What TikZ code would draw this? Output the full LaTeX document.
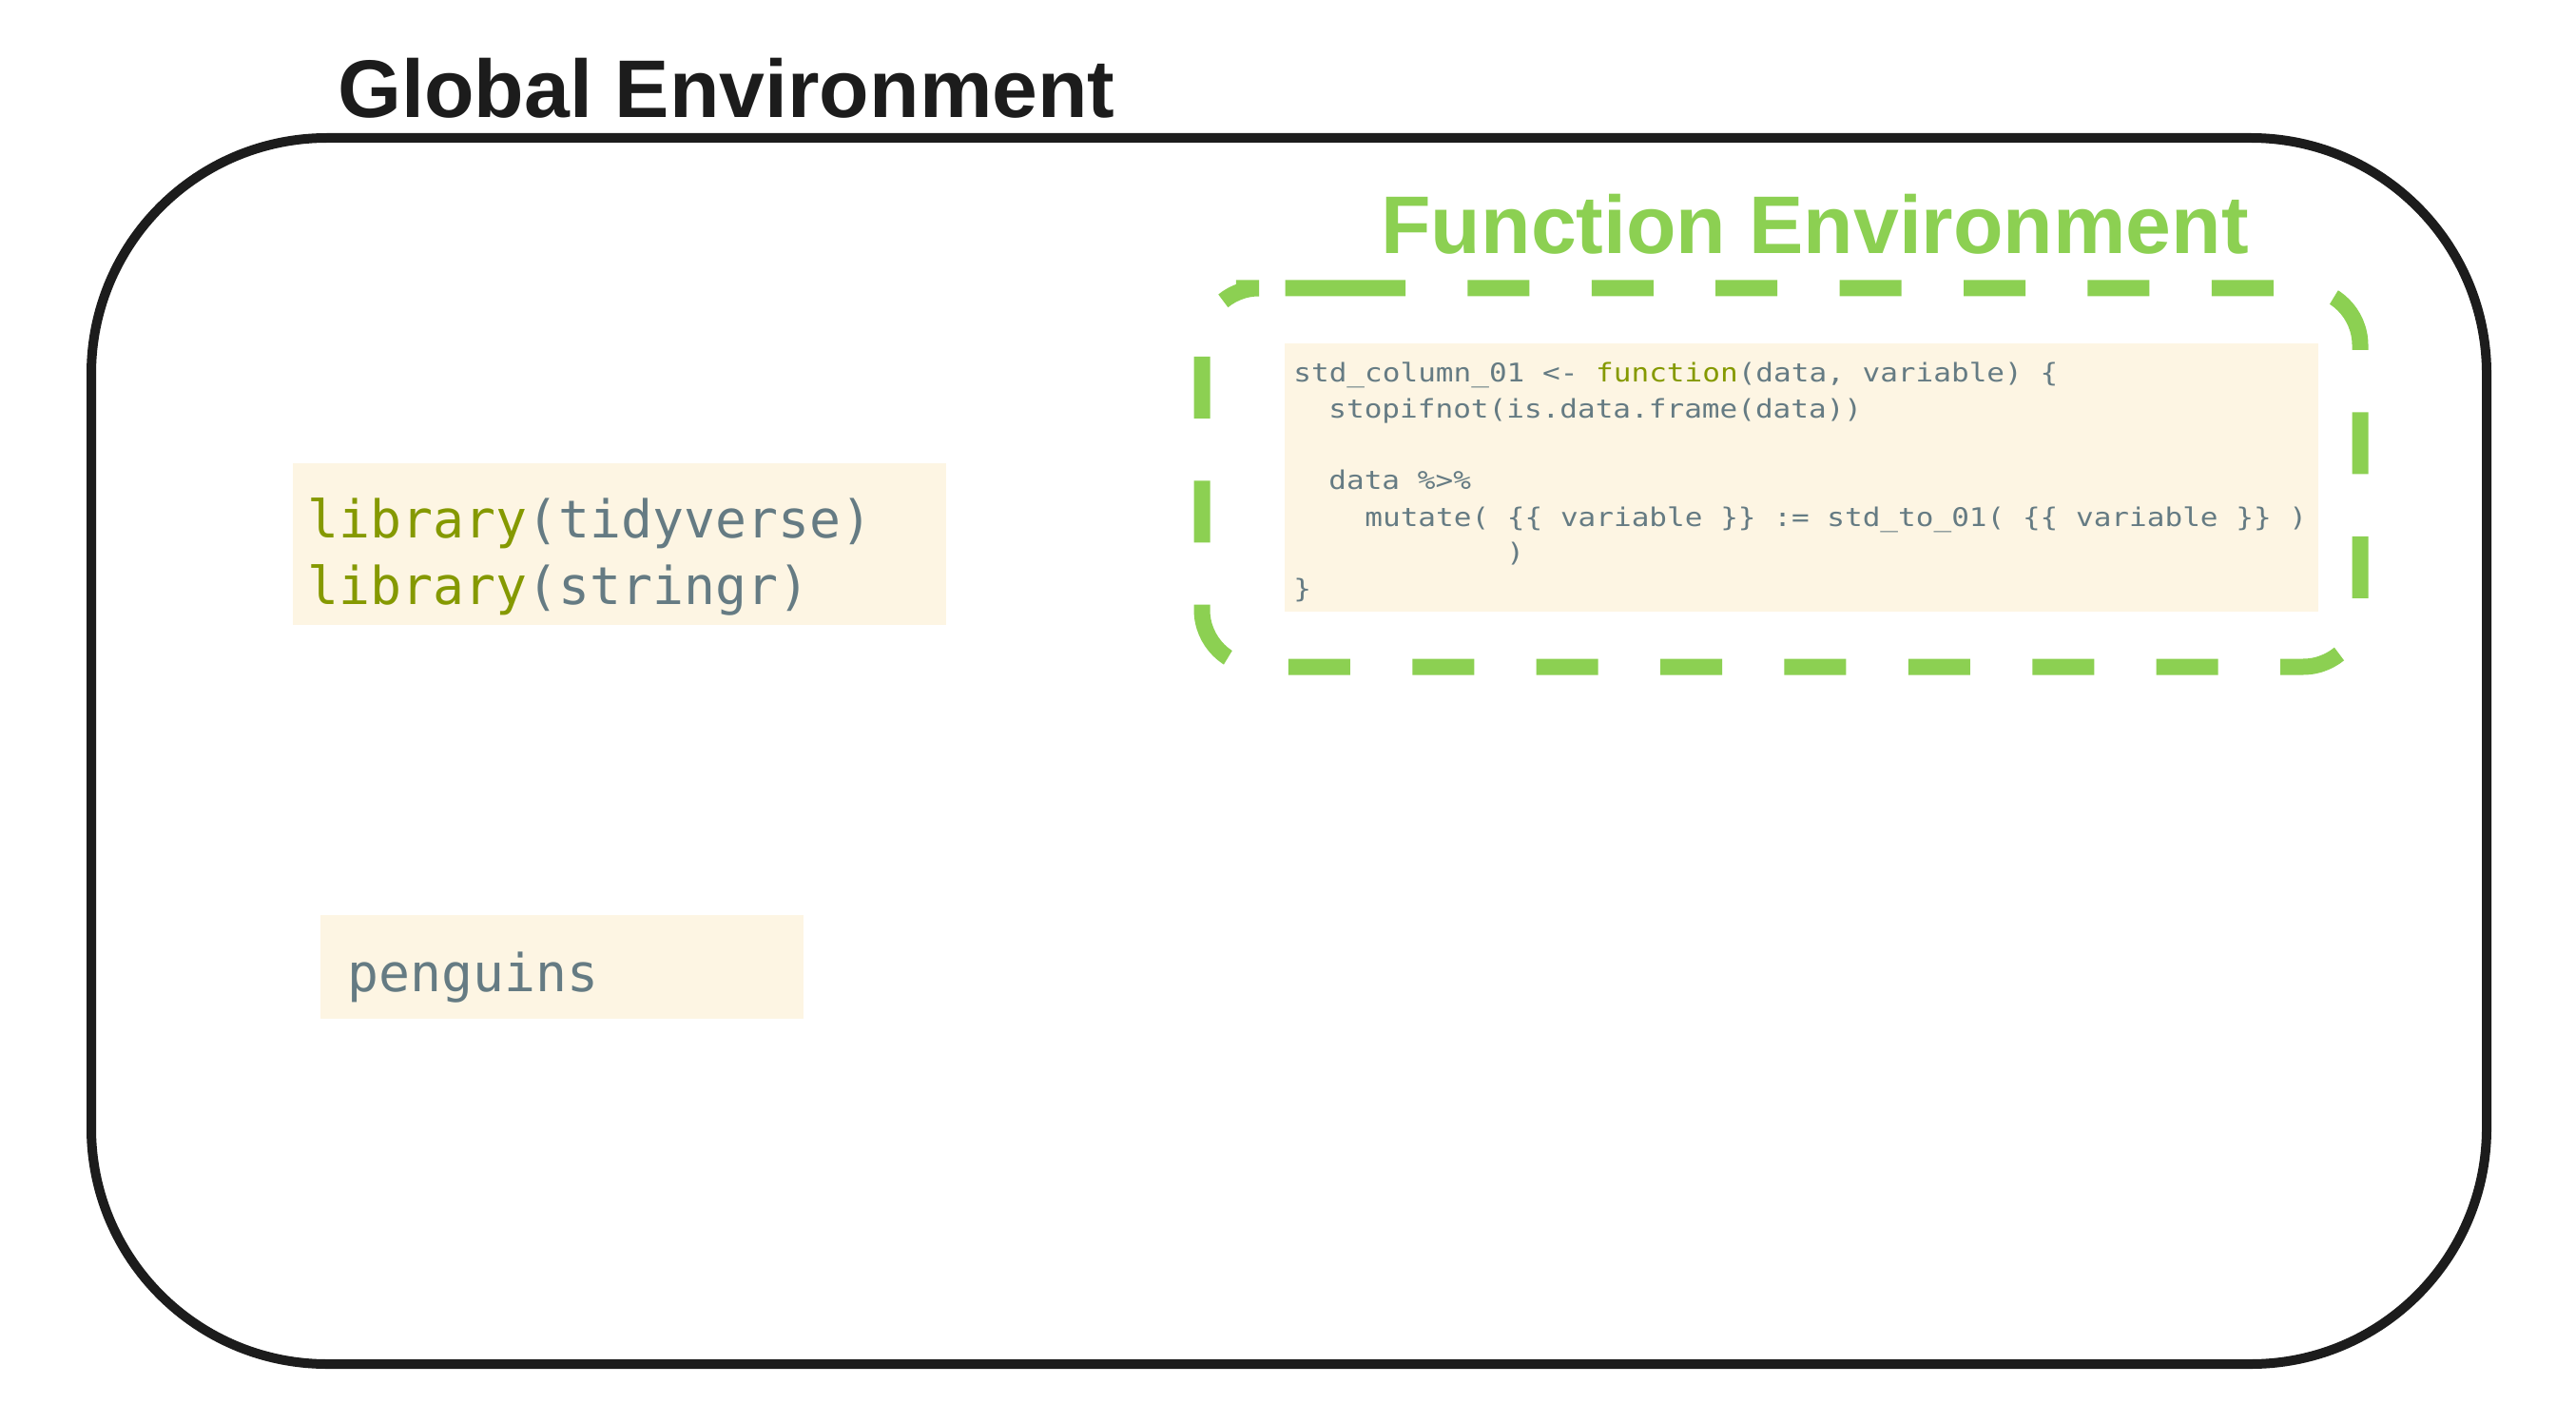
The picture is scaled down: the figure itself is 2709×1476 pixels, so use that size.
\documentclass[tikz,border=0pt]{standalone}
\usepackage{fontspec}
\usepackage{graphicx}
\newfontfamily\titlefont{Liberation Sans}
\newfontfamily\codefont{DejaVu Sans Mono}
\definecolor{envgreen}{RGB}{140,208,82}
\definecolor{boxblack}{RGB}{28,28,28}
\definecolor{codebg}{RGB}{253,245,227}
\definecolor{codefg}{RGB}{101,123,131}
\definecolor{codekw}{RGB}{133,153,0}
\newcommand{\codewide}[1]{\scalebox{1.15}[1]{#1}}
\begin{document}
\begin{tikzpicture}[x=0.5pt,y=-0.5pt,
  titletext/.style={anchor=base west, inner sep=0pt, font=\titlefont\bfseries\fontsize{43pt}{50pt}\selectfont},
  panel/.style={fill=codebg, draw=none, inner sep=0pt},
  bigcode/.style={anchor=base west, inner sep=0pt, text=codefg, font=\codefont\fontsize{27.4pt}{33pt}\selectfont},
  smallcode/.style={anchor=base west, inner sep=0pt, text=codefg, font=\codefont\fontsize{13.5pt}{16pt}\selectfont},
  globalbox/.style={draw=boxblack, line width=5pt, rounded corners=124pt, inner sep=0pt},
  fenvbox/.style={draw=envgreen, line width=8.5pt, rounded corners=30pt, dash pattern=on 32.5pt off 32.7pt}
]
\fill[white] (0,0) rectangle (2709,1476);
\useasboundingbox (0,0) rectangle (2709,1476);

% global environment
\node[globalbox, minimum width=1259.5pt, minimum height=644.5pt] (global) at (1355.5,789.5) {};
\node[titletext, text=boxblack] (globaltitle) at (355,124) {Global Environment};

% function environment
\coordinate (fstart) at (1353,303);
\draw[fenvbox] (fstart) -- (2482,303) -- (2482,701) -- (1264,701) -- (1264,303) -- cycle;
\node[titletext, text=envgreen] (fenvtitle) at (1452,267) {Function Environment};

% panels
\node[panel, minimum width=343.5pt, minimum height=85pt] (libpanel) at (651.5,572) {};
\node[panel, minimum width=254pt, minimum height=54.5pt] (penpanel) at (591,1016.5) {};
\node[panel, minimum width=543.5pt, minimum height=141pt] (codepanel) at (1894.5,502) {};

% library code
\node[bigcode] (lib1) at (323,565) {\textcolor{codekw}{library}(tidyverse)};
\node[bigcode] (lib2) at (323,635) {\textcolor{codekw}{library}(stringr)};

% penguins
\node[bigcode] (pen) at (365,1042) {penguins};

% function code
\node[smallcode] (c1) at (1360,402) {\codewide{std\_column\_01 <- \textcolor{codekw}{function}(data, variable) \{}};
\node[smallcode] (c2) at (1397,440) {\codewide{stopifnot(is.data.frame(data))}};
\node[smallcode] (c3) at (1397,515) {\codewide{data \%>\%}};
\node[smallcode] (c4) at (1435,553) {\codewide{mutate( \{\{ variable \}\} := std\_to\_01( \{\{ variable \}\} )}};
\node[smallcode] (c5) at (1584,590) {\codewide{)}};
\node[smallcode] (c6) at (1360,628) {\codewide{\}}};
\end{tikzpicture}
\end{document}
